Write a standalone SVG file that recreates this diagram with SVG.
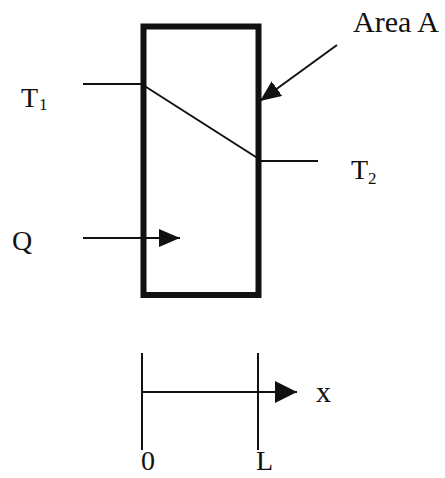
<svg xmlns="http://www.w3.org/2000/svg" width="445" height="478" viewBox="0 0 445 478">
<style>
text{font-family:"Liberation Serif","Times New Roman",serif;font-size:28px;fill:#111}
.ln{stroke:#111;stroke-width:2;fill:none}
.sub{font-size:17px}
</style>
<defs>
<marker id="ah" markerUnits="userSpaceOnUse" markerWidth="22" markerHeight="20" refX="21" refY="9" orient="auto">
<path d="M0,0 L21,9 L0,18 z" fill="#111"/>
</marker>
<marker id="ah2" markerUnits="userSpaceOnUse" markerWidth="24" markerHeight="24" refX="22" refY="11" orient="auto">
<path d="M0,0 L22,11 L0,22 z" fill="#111"/>
</marker>
</defs>
<rect width="445" height="478" fill="#fff"/>
<g id="slab">
<rect x="143.5" y="26.5" width="115" height="268.5" fill="none" stroke="#111" stroke-width="6"/>
</g>
<g id="profile">
<line class="ln" x1="143" y1="85" x2="259" y2="159" stroke-width="3"/>
</g>
<g id="t1">
<text x="21" y="107">T<tspan class="sub" dx="1" dy="3">1</tspan></text>
</g>
<g id="t2">
<text x="351" y="179">T<tspan class="sub" dx="0" dy="5">2</tspan></text>
</g>
<g id="area">
<text x="353" y="32" style="font-size:30px">Area A</text>
</g>
<g id="q">
<text x="12" y="250">Q</text>
</g>
<g id="axis">
<line class="ln" x1="142" y1="353" x2="142" y2="450" stroke-width="2.5"/>
<line class="ln" x1="258" y1="353" x2="258" y2="450" stroke-width="2.5"/>
<text x="141" y="470">0</text>
<text x="256" y="470">L</text>
<text x="316" y="402" style="font-size:30px">x</text>
</g>
<g id="connectors">
<line class="ln" x1="83" y1="84" x2="143" y2="84"/>
<line class="ln" x1="259" y1="161" x2="318" y2="161"/>
<line class="ln" x1="337" y1="45" x2="260" y2="101" stroke-width="3" marker-end="url(#ah)"/>
<line class="ln" x1="83" y1="238" x2="180" y2="238" marker-end="url(#ah)"/>
<line class="ln" x1="142" y1="392" x2="297" y2="392" stroke-width="2.5" marker-end="url(#ah2)"/>
</g>
</svg>
